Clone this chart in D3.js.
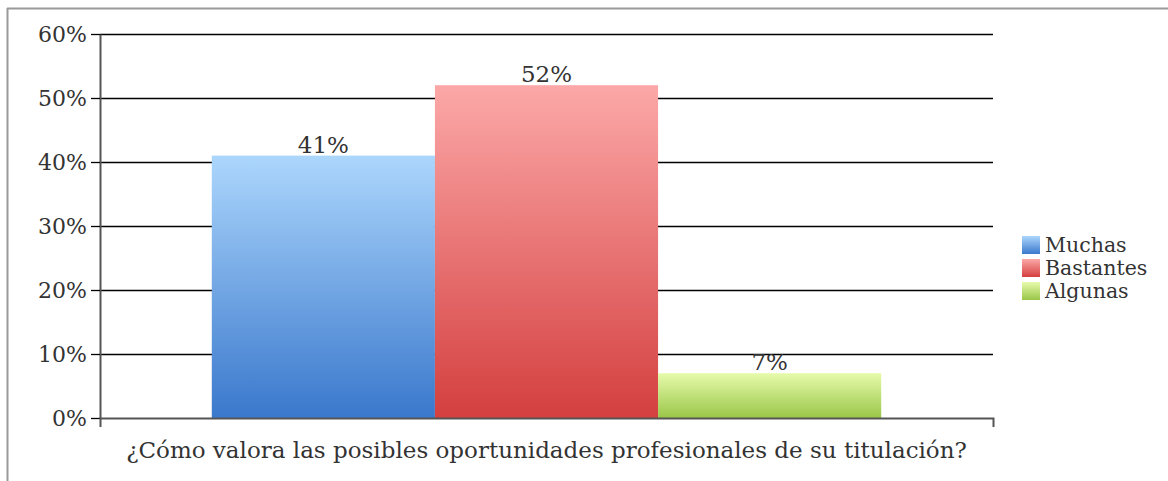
<!DOCTYPE html>
<html>
<head>
<meta charset="utf-8">
<script src="https://cdn.jsdelivr.net/npm/d3@7"></script>
<style>
  body { margin: 0; background: #fff; }
  svg text { font-family: 'DejaVu Serif', serif; fill: #333; }
</style>
</head>
<body>
<div class="canvas"></div>
<script>
// data
const category = '¿Cómo valora las posibles oportunidades profesionales de su titulación?'
const series = ['Muchas', 'Bastantes', 'Algunas']
const values = [0.41, 0.52, 0.07]
const yTicks = [0, 0.1, 0.2, 0.3, 0.4, 0.5, 0.6]

// gradient colours per series (top, bottom)
const colors = [
    ['#acd6fc', '#3a78cc'],
    ['#fca8a8', '#d43f3f'],
    ['#e6fbab', '#9ac648']
]

const width = 1168
const height = 481

const svg = d3.select('.canvas')
    .append('svg')
    .attr('width', width)
    .attr('height', height)

// frame (top and left only visible)
svg.append('line')
    .attr('x1', 7).attr('x2', width).attr('y1', 8.5).attr('y2', 8.5)
    .attr('stroke', '#999').attr('stroke-width', 2)
svg.append('line')
    .attr('x1', 7.5).attr('x2', 7.5).attr('y1', 8).attr('y2', height)
    .attr('stroke', '#999').attr('stroke-width', 2)

const margin = { top: 34, right: 175, bottom: 63, left: 100 }
const graphWidth = width - margin.left - margin.right
const graphHeight = height - margin.top - margin.bottom

const graph = svg.append('g')
    .attr('transform', `translate(${margin.left}, ${margin.top})`)

// scales
const y = d3.scaleLinear()
    .domain([0, 0.6])
    .range([graphHeight, 0])

const x0 = d3.scaleBand()
    .domain([category])
    .range([0, graphWidth])
    .paddingInner(0)
    .paddingOuter(0.167)

const x1 = d3.scaleBand()
    .domain(series)
    .range([0, x0.bandwidth()])

// gradients
const defs = svg.append('defs')
series.forEach((s, i) => {
    const g = defs.append('linearGradient')
        .attr('id', 'grad' + i)
        .attr('x1', 0).attr('x2', 0).attr('y1', 0).attr('y2', 1)
    g.append('stop').attr('offset', '0%').attr('stop-color', colors[i][0])
    g.append('stop').attr('offset', '100%').attr('stop-color', colors[i][1])
})

// gridlines
graph.append('g')
    .selectAll('line')
    .data(yTicks.filter(d => d > 0))
    .enter()
    .append('line')
    .attr('x1', 0)
    .attr('x2', graphWidth)
    .attr('y1', d => Math.round(y(d)) + 0.5)
    .attr('y2', d => Math.round(y(d)) + 0.5)
    .attr('stroke', '#000')
    .attr('stroke-width', 1.3)

// bars
const data = series.map((s, i) => ({ name: s, value: values[i], i }))

graph.selectAll('rect.bar')
    .data(data)
    .enter()
    .append('rect')
    .attr('class', 'bar')
    .attr('x', d => x0(category) + x1(d.name))
    .attr('width', x1.bandwidth())
    .attr('y', d => y(d.value))
    .attr('height', d => graphHeight - y(d.value))
    .attr('fill', d => `url(#grad${d.i})`)

// value labels
graph.selectAll('text.val')
    .data(data)
    .enter()
    .append('text')
    .attr('class', 'val')
    .attr('x', d => x0(category) + x1(d.name) + x1.bandwidth() / 2)
    .attr('y', d => y(d.value) - 3)
    .attr('text-anchor', 'middle')
    .style('font-size', '23px')
    .text(d => Math.round(d.value * 100) + '%')

// y axis
const yAxis = d3.axisLeft(y)
    .tickValues(yTicks)
    .tickFormat(d => Math.round(d * 100) + '%')
    .tickSize(9)
    .tickSizeOuter(0)

const yAxisGroup = graph.append('g')
    .attr('font-family', "'DejaVu Serif', serif")
    .call(yAxis)
yAxisGroup.select('.domain').attr('stroke', '#555').attr('stroke-width', 2)
yAxisGroup.selectAll('.tick line').attr('stroke', '#000').attr('stroke-width', 1.3)
yAxisGroup.selectAll('.tick text')
    .attr('x', -13)
    .style('font-size', '22px')
    .attr('fill', '#333')

// x axis
const xAxis = d3.axisBottom(x0)
    .tickSize(0)
    .tickSizeOuter(9)

const xAxisGroup = graph.append('g')
    .attr('font-family', "'DejaVu Serif', serif")
    .attr('transform', `translate(0, ${graphHeight})`)
    .call(xAxis)
xAxisGroup.select('.domain').attr('stroke', '#555').attr('stroke-width', 2)
xAxisGroup.selectAll('.tick text')
    .attr('y', 40)
    .attr('dy', 0)
    .style('font-size', '23px')
    .attr('fill', '#333')

// legend
const legend = svg.append('g')
    .attr('transform', 'translate(1022, 236)')

const items = legend.selectAll('g')
    .data(series)
    .enter()
    .append('g')
    .attr('transform', (d, i) => `translate(0, ${i * 23})`)

items.append('rect')
    .attr('width', 18)
    .attr('height', 18)
    .attr('fill', (d, i) => `url(#grad${i})`)

items.append('text')
    .attr('x', 23)
    .attr('y', 16)
    .style('font-size', '20.5px')
    .text(d => d)
</script>
</body>
</html>
